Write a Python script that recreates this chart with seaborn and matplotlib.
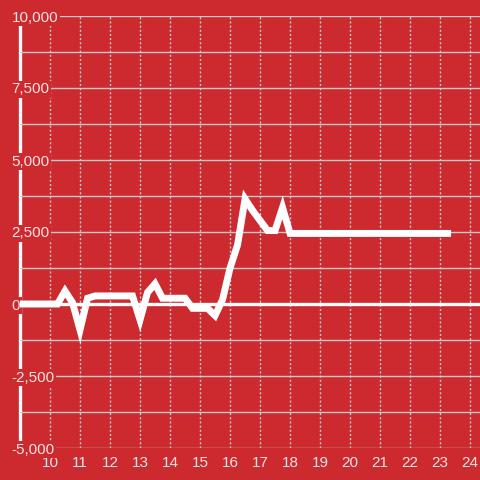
import matplotlib
matplotlib.use("Agg")
import matplotlib.pyplot as plt
from matplotlib.ticker import MultipleLocator, FuncFormatter
import numpy as np
import pandas as pd
import seaborn as sns

# values
hours = [9.0, 9.25, 9.5, 9.75, 10.0, 10.25, 10.5, 10.75, 11.0, 11.25, 11.5, 11.75,
         12.0, 12.25, 12.5, 12.75, 13.0, 13.25, 13.5, 13.75, 14.0, 14.25, 14.5,
         14.75, 15.0, 15.25, 15.5, 15.75, 16.0, 16.25, 16.5, 16.75, 17.0, 17.25,
         17.5, 17.75, 18.0, 18.5, 19.0, 20.0, 21.0, 22.0, 23.0, 23.25]
balance = [0, 0, 0, 0, 0, 0, 450, 50, -900, 200, 280, 280,
           280, 280, 280, 280, -550, 400, 700, 200, 200, 200, 200,
           -150, -150, -150, -400, 150, 1250, 2050, 3650, 3250, 2900, 2550,
           2550, 3350, 2450, 2450, 2450, 2450, 2450, 2450, 2450, 2450]

x_ticks = list(range(10, 25))

bg = "#cc2a2f"
grid = "#c9c9c9"
text = "#f3e2e2"

sns.set_style("white", {"axes.facecolor": bg, "figure.facecolor": bg})
plt.rcParams["font.family"] = ["Liberation Sans", "DejaVu Sans"]

df = pd.DataFrame({"hour": hours, "balance": balance})

fig = plt.figure(figsize=(4.8, 4.8), dpi=100)
ax = fig.add_axes([20 / 480, 32 / 480, 460 / 480, 432 / 480])

ax.set_xlim(9, 24.33)
ax.set_ylim(-5000, 10000)

ax.yaxis.set_major_locator(MultipleLocator(2500))
ax.yaxis.set_minor_locator(MultipleLocator(1250))
ax.set_xticks(x_ticks)
ax.yaxis.set_major_formatter(FuncFormatter(lambda v, p: f"{int(v):,}"))

ax.grid(which="both", axis="y", color=grid, lw=1, ls="-", zorder=0)
ax.grid(which="major", axis="x", color=grid, lw=1, ls=(0, (1.5, 1.5)), zorder=0)
ax.set_axisbelow(True)

ax.axhline(0, color="white", lw=2.4, zorder=1.5)

sns.lineplot(data=df, x="hour", y="balance", ax=ax, color="white", lw=5,
             solid_joinstyle="miter", solid_capstyle="projecting", zorder=3)

for s in ["top", "right", "bottom"]:
    ax.spines[s].set_visible(False)
ax.spines["left"].set_color("white")
ax.spines["left"].set_linewidth(2.4)
ax.spines["left"].set_zorder(0.3)

ax.tick_params(axis="x", length=0, pad=6, labelsize=11, labelcolor=text)
ax.tick_params(axis="y", which="both", length=0, pad=6, labelsize=11, labelcolor=text)

ax.set_xlabel("")
ax.set_ylabel("")

fig.canvas.draw()
for t in ax.get_yticklabels():
    t.set_horizontalalignment("left")
    t.set_bbox(dict(facecolor=bg, edgecolor="none", pad=1))

fig.savefig("out.png", dpi=100, facecolor=bg)
